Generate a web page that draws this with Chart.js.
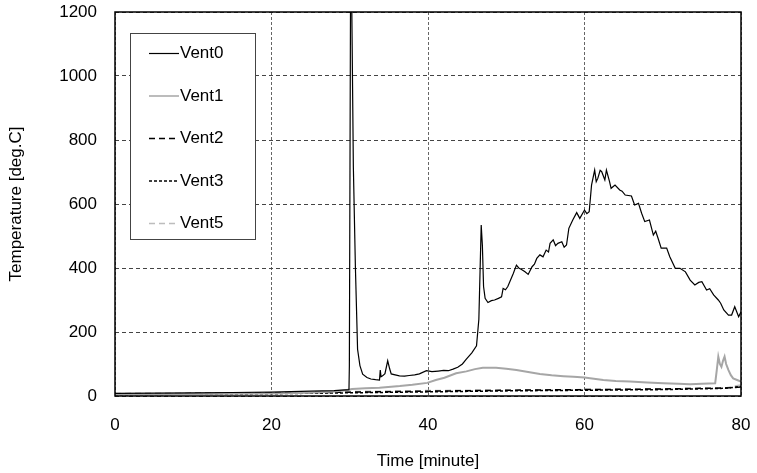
<!DOCTYPE html>
<html>
<head>
<meta charset="utf-8">
<title>Vent temperatures</title>
<script src="https://cdn.jsdelivr.net/npm/chart.js@4/dist/chart.umd.min.js"></script>
<style>
  body { margin: 0; background: #fff; }
  #chart { display: block; }
</style>
</head>
<body>
<canvas id="chart" width="757" height="473"></canvas>
<script>
// readings taken off the plot, time in minutes, temperature in deg.C
const vent0Time = [0, 5, 10, 15, 20, 25, 28, 29.9, 29.95, 30.1, 30.25, 30.46, 30.72, 31.0, 31.3, 31.65, 32.2, 32.7, 33.3, 33.8, 33.9, 34.0, 34.2, 34.5, 34.85, 35.1, 35.3, 35.8, 36.35, 37, 37.6, 38.3, 38.9, 39.8, 40.5, 41.3, 42, 42.6, 43.2, 43.8, 44.4, 44.9, 45.6, 46.2, 46.5, 46.8, 46.95, 47.1, 47.3, 47.66, 48.1, 48.5, 49.0, 49.4, 49.6, 49.9, 50.2, 50.9, 51.3, 51.6, 51.9, 52.4, 52.8, 53.3, 53.6, 53.9, 54.3, 54.7, 55.1, 55.4, 55.6, 56.0, 56.3, 56.6, 57.1, 57.4, 57.7, 58.0, 58.5, 59.0, 59.4, 60.0, 60.3, 60.6, 60.9, 61.3, 61.5, 61.7, 62.0, 62.2, 62.6, 62.8, 63.2, 63.4, 63.9, 64.5, 64.8, 65.2, 66.0, 66.4, 66.9, 67.3, 67.7, 68.3, 68.8, 69.1, 69.4, 69.8, 70.5, 70.9, 71.6, 72.2, 72.9, 73.5, 74.1, 74.6, 75.0, 75.6, 76.0, 76.5, 77.1, 77.4, 77.8, 78.4, 78.8, 79.2, 79.7, 80];
const vent0Temp = [8, 9, 10, 11, 12, 15, 17, 20, 94, 1250, 1240, 717, 405, 146, 95, 68, 58, 53, 51, 50, 81, 60, 63, 70, 110, 85, 69, 66, 63, 62, 64, 66, 69, 79, 76, 78, 80, 79, 84, 90, 100, 115, 135, 157, 240, 534, 470, 342, 305, 292, 298, 300, 305, 310, 336, 332, 342, 383, 409, 400, 396, 388, 380, 404, 412, 430, 441, 435, 456, 450, 477, 488, 470, 477, 482, 465, 472, 524, 550, 573, 555, 581, 570, 576, 659, 706, 670, 680, 705, 701, 675, 706, 670, 649, 659, 644, 640, 628, 625, 597, 602, 571, 545, 550, 503, 515, 493, 462, 462, 435, 399, 399, 388, 362, 347, 355, 357, 331, 335, 316, 300, 290, 269, 253, 253, 279, 248, 263];

const vent1Time = [0, 10, 20, 25, 28, 29.5, 30.3, 32, 33.8, 36.4, 38, 39.9, 41, 42.1, 43.6, 44.9, 46, 47, 48.7, 50, 51.3, 52.8, 54.3, 55.8, 57.3, 58.6, 60, 61.2, 62.4, 64, 65.8, 68, 70.1, 72, 73.5, 75, 76.7, 76.9, 77.1, 77.3, 77.5, 77.7, 77.9, 78.1, 78.4, 78.7, 79, 79.5, 80];
const vent1Temp = [5, 6, 8, 10, 14, 18, 22, 24, 26, 31, 35, 41, 50, 57, 71, 77, 84, 88, 88, 85, 81, 75, 69, 65, 62, 60, 58, 54, 50, 47, 45, 42, 40, 38, 37, 38, 40, 80, 123, 100, 91, 110, 123, 100, 81, 65, 55, 50, 45];

const baseTime = [0, 20, 30, 40, 50, 60, 70, 78, 80];
const vent2Temp = [6, 9, 12, 15, 18, 20, 22, 25, 28];
const vent3Temp = [4, 7, 10, 13, 16, 18, 20, 24, 30];
const vent5Temp = [8, 10, 14, 17, 19, 20, 22, 25, 35];

const seriesNames = ['Vent0', 'Vent1', 'Vent2', 'Vent3', 'Vent5'];
const yTicks = [0, 200, 400, 600, 800, 1000, 1200];
const xTicks = [0, 20, 40, 60, 80];

function pairs(xs, ys) {
  return xs.map((x, i) => ({ x, y: ys[i] }));
}

const font = { family: '"Liberation Sans", Arial, sans-serif', size: 17 };

// legend drawn inside the plot, with line samples that keep the dash
const boxLegend = {
  id: 'boxLegend',
  afterDatasetsDraw(chart) {
    const ctx = chart.ctx;
    const left = 130, top = 33, w = 125, h = 206;
    ctx.save();
    ctx.fillStyle = '#fff';
    ctx.fillRect(left, top, w, h);
    ctx.strokeStyle = '#444';
    ctx.lineWidth = 1;
    ctx.strokeRect(left + 0.5, top + 0.5, w, h);
    ctx.font = `${font.size}px ${font.family}`;
    ctx.textBaseline = 'middle';
    chart.data.datasets.forEach((ds, i) => {
      const y = 53.5 + i * 42.5;
      ctx.beginPath();
      ctx.strokeStyle = ds.borderColor;
      ctx.lineWidth = Math.min(ds.borderWidth, 1.5);
      ctx.setLineDash(ds.borderDash || []);
      ctx.moveTo(149, y);
      ctx.lineTo(179, y);
      ctx.stroke();
      ctx.setLineDash([]);
      ctx.fillStyle = '#000';
      ctx.fillText(ds.label, 180, y);
    });
    ctx.restore();
  }
};

// solid frame round the plot area
const frame = {
  id: 'frame',
  afterDraw(chart) {
    const { left, top, right, bottom } = chart.chartArea;
    const ctx = chart.ctx;
    ctx.save();
    ctx.strokeStyle = '#000';
    ctx.lineWidth = 1.5;
    ctx.strokeRect(left, top, right - left, bottom - top);
    ctx.restore();
  }
};

function noEdgePadding(axis) {
  axis.paddingTop = 0;
  axis.paddingBottom = 0;
  axis.paddingLeft = 0;
  axis.paddingRight = 0;
}

new Chart(document.getElementById('chart'), {
  type: 'line',
  data: {
    datasets: [
      { label: seriesNames[0], data: pairs(vent0Time, vent0Temp), borderColor: '#000', borderWidth: 1.2 },
      { label: seriesNames[1], data: pairs(vent1Time, vent1Temp), borderColor: '#a6a6a6', borderWidth: 2 },
      { label: seriesNames[2], data: pairs(baseTime, vent2Temp), borderColor: '#000', borderWidth: 1.5, borderDash: [6, 4] },
      { label: seriesNames[3], data: pairs(baseTime, vent3Temp), borderColor: '#000', borderWidth: 1.5, borderDash: [3, 2] },
      { label: seriesNames[4], data: pairs(baseTime, vent5Temp), borderColor: '#bdbdbd', borderWidth: 1.5, borderDash: [6, 4] }
    ]
  },
  options: {
    responsive: false,
    animation: false,
    devicePixelRatio: 1,
    elements: { point: { radius: 0 }, line: { tension: 0 } },
    layout: { padding: { left: 0, right: 16, top: 12, bottom: 0 } },
    plugins: {
      legend: { display: false },
      tooltip: { enabled: false }
    },
    scales: {
      x: {
        type: 'linear',
        min: 0,
        max: 80,
        afterBuildTicks: (axis) => { axis.ticks = xTicks.map(v => ({ value: v })); },
        afterFit: (axis) => { axis.height = 77; noEdgePadding(axis); },
        ticks: { font, color: '#000', padding: 19, maxRotation: 0 },
        grid: { color: '#666', drawTicks: false },
        border: { display: false, dash: [3, 2] },
        title: { display: true, text: 'Time [minute]', font, color: '#000', padding: { top: 0, bottom: 1 } }
      },
      y: {
        min: 0,
        max: 1200,
        afterBuildTicks: (axis) => { axis.ticks = yTicks.map(v => ({ value: v })); },
        afterFit: (axis) => { axis.width = 115; noEdgePadding(axis); },
        ticks: { font, color: '#000', padding: 18, callback: (v) => String(v) },
        grid: { color: '#444', drawTicks: false },
        border: { display: false, dash: [4, 3] },
        title: { display: true, text: 'Temperature [deg.C]', font, color: '#000', padding: { top: 6, bottom: 0 } }
      }
    }
  },
  plugins: [boxLegend, frame]
});
</script>
</body>
</html>
